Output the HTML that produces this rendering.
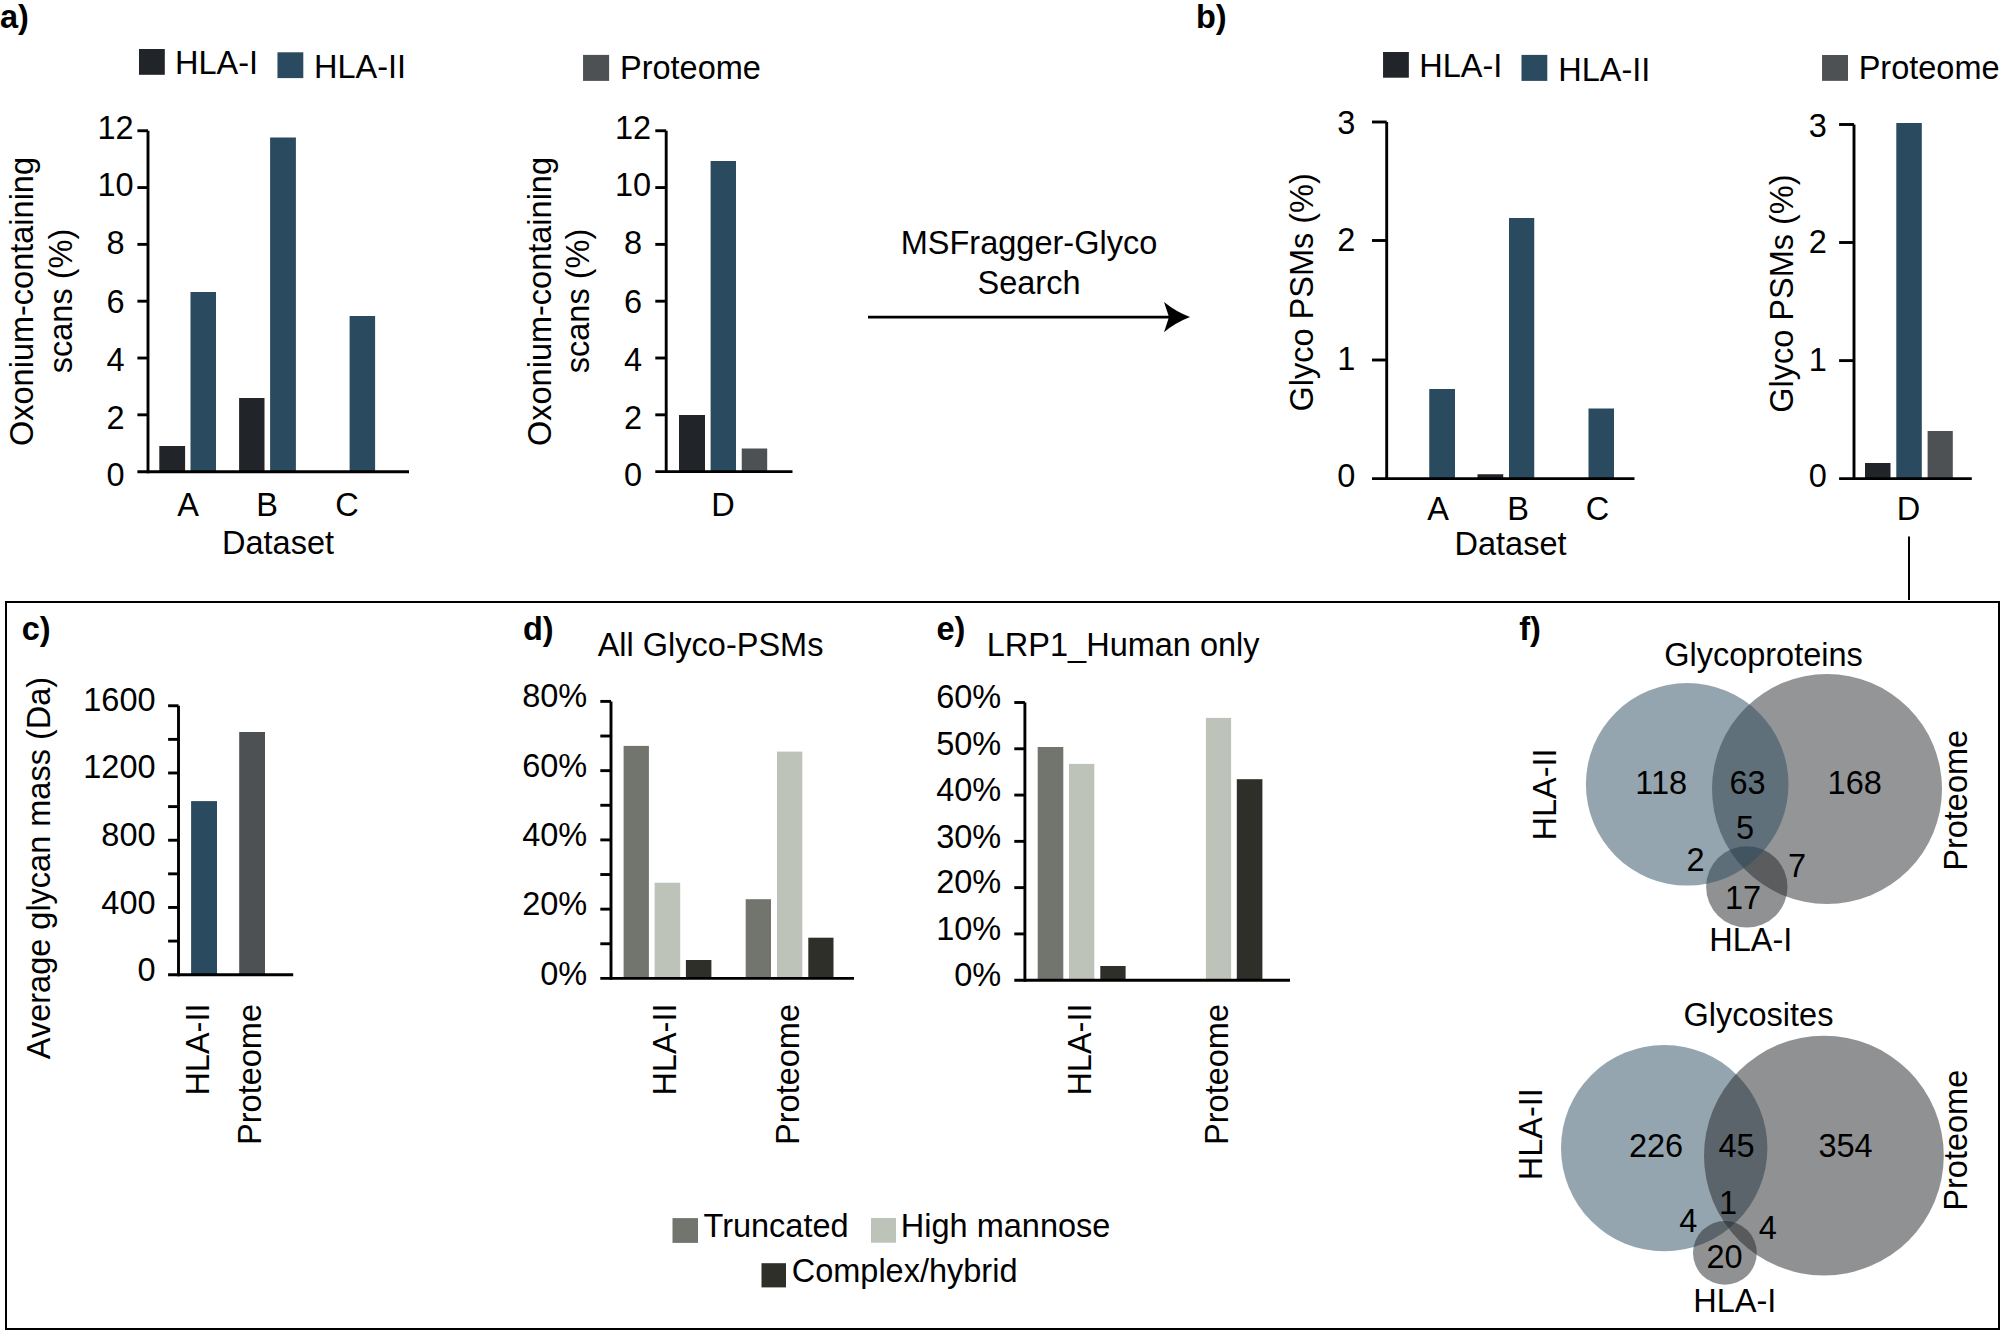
<!DOCTYPE html>
<html lang="en">
<head>
<meta charset="utf-8">
<title>Glycopeptide figure</title>
<style>
html,body{margin:0;padding:0;background:#fff;}
body{width:2000px;height:1330px;overflow:hidden;}
svg{display:block;}
svg text{font-family:"Liberation Sans",Arial,Helvetica,sans-serif;font-size:32.5px;fill:#000;}
</style>
</head>
<body>
<svg width="2000" height="1330" viewBox="0 0 2000 1330">
<rect x="0" y="0" width="2000" height="1330" fill="#fff"/>
<text x="0.00" y="28.00" font-weight="bold" font-size="33">a)</text>
<text x="1196.00" y="28.00" font-weight="bold" font-size="33">b)</text>
<text x="21.80" y="640.10" font-weight="bold" font-size="33">c)</text>
<text x="523.00" y="640.00" font-weight="bold" font-size="33">d)</text>
<text x="936.50" y="640.00" font-weight="bold" font-size="33">e)</text>
<text x="1519.30" y="640.00" font-weight="bold" font-size="33">f)</text>
<rect x="139.00" y="49.00" width="25.80" height="25.80" fill="#212429"/>
<text x="175.00" y="74.00">HLA-I</text>
<rect x="277.45" y="52.30" width="25.85" height="25.80" fill="#2a4b5f"/>
<text x="314.00" y="78.00">HLA-II</text>
<text x="115.60" y="138.80" text-anchor="middle">12</text>
<text x="115.60" y="196.30" text-anchor="middle">10</text>
<text x="115.60" y="254.20" text-anchor="middle">8</text>
<text x="115.60" y="312.60" text-anchor="middle">6</text>
<text x="115.60" y="370.70" text-anchor="middle">4</text>
<text x="115.60" y="428.60" text-anchor="middle">2</text>
<text x="115.60" y="486.40" text-anchor="middle">0</text>
<rect x="159.30" y="446.00" width="25.80" height="25.70" fill="#212429"/>
<rect x="190.50" y="292.00" width="25.50" height="179.70" fill="#2a4b5f"/>
<rect x="239.10" y="398.00" width="25.40" height="73.70" fill="#212429"/>
<rect x="270.10" y="137.50" width="25.80" height="334.20" fill="#2a4b5f"/>
<rect x="349.60" y="316.00" width="25.50" height="155.70" fill="#2a4b5f"/>
<text x="188.00" y="516.00" text-anchor="middle">A</text>
<text x="267.00" y="516.00" text-anchor="middle">B</text>
<text x="347.00" y="516.00" text-anchor="middle">C</text>
<text x="278.00" y="554.00" text-anchor="middle">Dataset</text>
<text transform="translate(33.20 301.50) rotate(-90)" text-anchor="middle">Oxonium-containing</text>
<text transform="translate(71.50 301.00) rotate(-90)" text-anchor="middle">scans (%)</text>
<rect x="583.05" y="54.90" width="26.05" height="26.00" fill="#4d5154"/>
<text x="620.00" y="79.00">Proteome</text>
<text x="633.00" y="138.80" text-anchor="middle">12</text>
<text x="633.00" y="196.30" text-anchor="middle">10</text>
<text x="633.00" y="254.20" text-anchor="middle">8</text>
<text x="633.00" y="312.60" text-anchor="middle">6</text>
<text x="633.00" y="370.70" text-anchor="middle">4</text>
<text x="633.00" y="428.60" text-anchor="middle">2</text>
<text x="633.00" y="486.40" text-anchor="middle">0</text>
<rect x="679.00" y="415.00" width="26.00" height="56.70" fill="#212429"/>
<rect x="710.60" y="161.00" width="25.40" height="310.70" fill="#2a4b5f"/>
<rect x="741.75" y="448.50" width="25.45" height="23.20" fill="#4d5154"/>
<text x="723.00" y="516.00" text-anchor="middle">D</text>
<text transform="translate(550.90 301.50) rotate(-90)" text-anchor="middle">Oxonium-containing</text>
<text transform="translate(589.40 301.00) rotate(-90)" text-anchor="middle">scans (%)</text>
<text x="1029.00" y="254.40" text-anchor="middle">MSFragger-Glyco</text>
<text x="1029.00" y="293.60" text-anchor="middle">Search</text>
<line x1="868.00" y1="317.10" x2="1172.00" y2="317.10" stroke="#000" stroke-width="2.9" stroke-linecap="butt"/>
<path d="M1190.05 317.1 Q1175.8 311.6 1164 302 L1169 317.1 L1164 332.2 Q1175.8 322.6 1190.05 317.1 Z" fill="#000"/>
<rect x="1383.05" y="52.00" width="25.80" height="25.70" fill="#212429"/>
<text x="1419.30" y="76.90">HLA-I</text>
<rect x="1521.50" y="54.90" width="25.80" height="26.00" fill="#2a4b5f"/>
<text x="1558.20" y="80.80">HLA-II</text>
<text x="1346.30" y="134.30" text-anchor="middle">3</text>
<text x="1346.30" y="251.00" text-anchor="middle">2</text>
<text x="1346.30" y="370.30" text-anchor="middle">1</text>
<text x="1346.30" y="486.60" text-anchor="middle">0</text>
<rect x="1429.25" y="389.00" width="25.75" height="89.75" fill="#2a4b5f"/>
<rect x="1477.50" y="474.25" width="25.75" height="4.50" fill="#212429"/>
<rect x="1509.00" y="218.00" width="25.25" height="260.75" fill="#2a4b5f"/>
<rect x="1588.50" y="408.50" width="25.50" height="70.25" fill="#2a4b5f"/>
<text x="1438.00" y="519.70" text-anchor="middle">A</text>
<text x="1518.00" y="519.70" text-anchor="middle">B</text>
<text x="1597.40" y="519.70" text-anchor="middle">C</text>
<text x="1510.50" y="555.20" text-anchor="middle">Dataset</text>
<text transform="translate(1313.20 292.40) rotate(-90)" text-anchor="middle">Glyco PSMs (%)</text>
<rect x="1822.05" y="55.00" width="25.95" height="25.85" fill="#4d5154"/>
<text x="1858.70" y="78.90">Proteome</text>
<text x="1817.80" y="136.50" text-anchor="middle">3</text>
<text x="1817.80" y="252.60" text-anchor="middle">2</text>
<text x="1817.80" y="371.10" text-anchor="middle">1</text>
<text x="1817.80" y="487.00" text-anchor="middle">0</text>
<rect x="1865.00" y="463.00" width="25.50" height="15.70" fill="#212429"/>
<rect x="1896.30" y="123.00" width="25.50" height="355.70" fill="#2a4b5f"/>
<rect x="1927.60" y="431.00" width="25.20" height="47.70" fill="#4d5154"/>
<text x="1908.40" y="519.70" text-anchor="middle">D</text>
<text transform="translate(1792.60 293.60) rotate(-90)" text-anchor="middle">Glyco PSMs (%)</text>
<line x1="1909.00" y1="536.50" x2="1909.00" y2="600.00" stroke="#000" stroke-width="2" stroke-linecap="butt"/>
<rect x="6" y="602" width="1993" height="727" fill="none" stroke="#000" stroke-width="2"/>
<text x="155.60" y="710.70" text-anchor="end">1600</text>
<text x="155.60" y="778.40" text-anchor="end">1200</text>
<text x="155.60" y="846.00" text-anchor="end">800</text>
<text x="155.60" y="913.50" text-anchor="end">400</text>
<text x="155.60" y="980.90" text-anchor="end">0</text>
<rect x="191.10" y="801.10" width="25.90" height="173.60" fill="#2a4b5f"/>
<rect x="239.20" y="732.00" width="25.80" height="242.70" fill="#4d5154"/>
<text transform="translate(209.20 1003.50) rotate(-90)" text-anchor="end">HLA-II</text>
<text transform="translate(260.90 1004.00) rotate(-90)" text-anchor="end">Proteome</text>
<text transform="translate(49.90 868.00) rotate(-90)" text-anchor="middle">Average glycan mass (Da)</text>
<text x="597.70" y="656.20">All Glyco-PSMs</text>
<text x="587.20" y="706.90" text-anchor="end">80%</text>
<text x="587.20" y="776.50" text-anchor="end">60%</text>
<text x="587.20" y="845.90" text-anchor="end">40%</text>
<text x="587.20" y="915.40" text-anchor="end">20%</text>
<text x="587.20" y="984.90" text-anchor="end">0%</text>
<rect x="623.60" y="745.90" width="25.30" height="232.50" fill="#72756e"/>
<rect x="654.60" y="882.70" width="25.60" height="95.70" fill="#bec3ba"/>
<rect x="685.90" y="960.00" width="25.50" height="18.40" fill="#2e2f29"/>
<rect x="745.70" y="899.20" width="25.30" height="79.20" fill="#72756e"/>
<rect x="777.00" y="751.60" width="25.30" height="226.80" fill="#bec3ba"/>
<rect x="808.30" y="937.70" width="25.20" height="40.70" fill="#2e2f29"/>
<text transform="translate(676.10 1003.50) rotate(-90)" text-anchor="end">HLA-II</text>
<text transform="translate(798.50 1004.00) rotate(-90)" text-anchor="end">Proteome</text>
<rect x="672.50" y="1218.10" width="25.50" height="24.80" fill="#72756e"/>
<text x="703.50" y="1236.80">Truncated</text>
<rect x="871.00" y="1218.00" width="25.00" height="24.70" fill="#bec3ba"/>
<text x="900.80" y="1237.00">High mannose</text>
<rect x="761.50" y="1263.20" width="24.50" height="24.20" fill="#2e2f29"/>
<text x="791.70" y="1282.20">Complex/hybrid</text>
<text x="986.80" y="656.20">LRP1_Human only</text>
<text x="1001.20" y="708.40" text-anchor="end">60%</text>
<text x="1001.20" y="755.10" text-anchor="end">50%</text>
<text x="1001.20" y="801.30" text-anchor="end">40%</text>
<text x="1001.20" y="847.50" text-anchor="end">30%</text>
<text x="1001.20" y="893.40" text-anchor="end">20%</text>
<text x="1001.20" y="939.80" text-anchor="end">10%</text>
<text x="1001.20" y="985.90" text-anchor="end">0%</text>
<rect x="1037.70" y="747.00" width="25.60" height="233.20" fill="#72756e"/>
<rect x="1069.00" y="763.90" width="25.30" height="216.30" fill="#bec3ba"/>
<rect x="1100.30" y="966.00" width="25.30" height="14.20" fill="#2e2f29"/>
<rect x="1205.90" y="717.90" width="25.20" height="262.30" fill="#bec3ba"/>
<rect x="1236.80" y="779.20" width="25.60" height="201.00" fill="#2e2f29"/>
<text transform="translate(1090.50 1003.50) rotate(-90)" text-anchor="end">HLA-II</text>
<text transform="translate(1227.70 1004.00) rotate(-90)" text-anchor="end">Proteome</text>
<circle cx="1827" cy="789" r="115" fill="#4d4f51" fill-opacity="0.6"/>
<circle cx="1746.8" cy="886.9" r="40.7" fill="#222426" fill-opacity="0.5"/>
<circle cx="1687.2" cy="784.3" r="101.3" fill="#2a4b5f" fill-opacity="0.5"/>
<text x="1763.50" y="666.30" text-anchor="middle">Glycoproteins</text>
<text x="1661.20" y="794.30" text-anchor="middle">118</text>
<text x="1747.50" y="794.30" text-anchor="middle">63</text>
<text x="1854.70" y="794.30" text-anchor="middle">168</text>
<text x="1745.00" y="839.40" text-anchor="middle">5</text>
<text x="1695.50" y="870.70" text-anchor="middle">2</text>
<text x="1797.00" y="876.90" text-anchor="middle">7</text>
<text x="1743.00" y="908.60" text-anchor="middle">17</text>
<text x="1750.70" y="950.90" text-anchor="middle">HLA-I</text>
<text transform="translate(1555.70 794.50) rotate(-90)" text-anchor="middle">HLA-II</text>
<text transform="translate(1967.00 800.30) rotate(-90)" text-anchor="middle">Proteome</text>
<circle cx="1664.2" cy="1148.1" r="103.2" fill="#2a4b5f" fill-opacity="0.5"/>
<circle cx="1823.9" cy="1155.6" r="119.9" fill="#212325" fill-opacity="0.5"/>
<circle cx="1724.9" cy="1252.9" r="31.9" fill="#212325" fill-opacity="0.5"/>
<text x="1758.50" y="1026.20" text-anchor="middle">Glycosites</text>
<text x="1656.00" y="1157.00" text-anchor="middle">226</text>
<text x="1736.50" y="1157.00" text-anchor="middle">45</text>
<text x="1845.50" y="1157.00" text-anchor="middle">354</text>
<text x="1728.00" y="1213.80" text-anchor="middle">1</text>
<text x="1688.30" y="1232.10" text-anchor="middle">4</text>
<text x="1767.80" y="1239.10" text-anchor="middle">4</text>
<text x="1724.50" y="1268.20" text-anchor="middle">20</text>
<text x="1734.80" y="1312.00" text-anchor="middle">HLA-I</text>
<text transform="translate(1541.70 1134.20) rotate(-90)" text-anchor="middle">HLA-II</text>
<text transform="translate(1967.40 1140.20) rotate(-90)" text-anchor="middle">Proteome</text>
<line x1="148.00" y1="130.75" x2="148.00" y2="473.20" stroke="#000" stroke-width="2.9" stroke-linecap="butt"/>
<line x1="137.40" y1="471.75" x2="409.00" y2="471.75" stroke="#000" stroke-width="2.9" stroke-linecap="butt"/>
<line x1="137.40" y1="130.75" x2="148.00" y2="130.75" stroke="#000" stroke-width="2.9" stroke-linecap="butt"/>
<line x1="137.40" y1="187.57" x2="148.00" y2="187.57" stroke="#000" stroke-width="2.9" stroke-linecap="butt"/>
<line x1="137.40" y1="244.38" x2="148.00" y2="244.38" stroke="#000" stroke-width="2.9" stroke-linecap="butt"/>
<line x1="137.40" y1="301.20" x2="148.00" y2="301.20" stroke="#000" stroke-width="2.9" stroke-linecap="butt"/>
<line x1="137.40" y1="358.02" x2="148.00" y2="358.02" stroke="#000" stroke-width="2.9" stroke-linecap="butt"/>
<line x1="137.40" y1="414.83" x2="148.00" y2="414.83" stroke="#000" stroke-width="2.9" stroke-linecap="butt"/>
<line x1="666.20" y1="130.75" x2="666.20" y2="473.10" stroke="#000" stroke-width="2.9" stroke-linecap="butt"/>
<line x1="655.30" y1="471.65" x2="792.50" y2="471.65" stroke="#000" stroke-width="2.9" stroke-linecap="butt"/>
<line x1="655.30" y1="130.75" x2="666.20" y2="130.75" stroke="#000" stroke-width="2.9" stroke-linecap="butt"/>
<line x1="655.30" y1="187.57" x2="666.20" y2="187.57" stroke="#000" stroke-width="2.9" stroke-linecap="butt"/>
<line x1="655.30" y1="244.38" x2="666.20" y2="244.38" stroke="#000" stroke-width="2.9" stroke-linecap="butt"/>
<line x1="655.30" y1="301.20" x2="666.20" y2="301.20" stroke="#000" stroke-width="2.9" stroke-linecap="butt"/>
<line x1="655.30" y1="358.02" x2="666.20" y2="358.02" stroke="#000" stroke-width="2.9" stroke-linecap="butt"/>
<line x1="655.30" y1="414.83" x2="666.20" y2="414.83" stroke="#000" stroke-width="2.9" stroke-linecap="butt"/>
<line x1="1386.70" y1="122.00" x2="1386.70" y2="480.05" stroke="#000" stroke-width="2.9" stroke-linecap="butt"/>
<line x1="1372.00" y1="478.60" x2="1634.50" y2="478.60" stroke="#000" stroke-width="2.9" stroke-linecap="butt"/>
<line x1="1372.00" y1="122.00" x2="1386.70" y2="122.00" stroke="#000" stroke-width="2.9" stroke-linecap="butt"/>
<line x1="1372.00" y1="240.50" x2="1386.70" y2="240.50" stroke="#000" stroke-width="2.9" stroke-linecap="butt"/>
<line x1="1372.00" y1="360.00" x2="1386.70" y2="360.00" stroke="#000" stroke-width="2.9" stroke-linecap="butt"/>
<line x1="1854.00" y1="124.50" x2="1854.00" y2="480.05" stroke="#000" stroke-width="2.9" stroke-linecap="butt"/>
<line x1="1839.10" y1="478.60" x2="1971.80" y2="478.60" stroke="#000" stroke-width="2.9" stroke-linecap="butt"/>
<line x1="1839.10" y1="124.50" x2="1854.00" y2="124.50" stroke="#000" stroke-width="2.9" stroke-linecap="butt"/>
<line x1="1839.10" y1="242.50" x2="1854.00" y2="242.50" stroke="#000" stroke-width="2.9" stroke-linecap="butt"/>
<line x1="1839.10" y1="360.60" x2="1854.00" y2="360.60" stroke="#000" stroke-width="2.9" stroke-linecap="butt"/>
<line x1="178.50" y1="705.75" x2="178.50" y2="976.15" stroke="#000" stroke-width="2.9" stroke-linecap="butt"/>
<line x1="168.10" y1="974.70" x2="293.20" y2="974.70" stroke="#000" stroke-width="2.9" stroke-linecap="butt"/>
<line x1="168.10" y1="705.75" x2="178.50" y2="705.75" stroke="#000" stroke-width="2.9" stroke-linecap="butt"/>
<line x1="168.10" y1="739.37" x2="178.50" y2="739.37" stroke="#000" stroke-width="2.9" stroke-linecap="butt"/>
<line x1="168.10" y1="772.99" x2="178.50" y2="772.99" stroke="#000" stroke-width="2.9" stroke-linecap="butt"/>
<line x1="168.10" y1="806.61" x2="178.50" y2="806.61" stroke="#000" stroke-width="2.9" stroke-linecap="butt"/>
<line x1="168.10" y1="840.23" x2="178.50" y2="840.23" stroke="#000" stroke-width="2.9" stroke-linecap="butt"/>
<line x1="168.10" y1="873.84" x2="178.50" y2="873.84" stroke="#000" stroke-width="2.9" stroke-linecap="butt"/>
<line x1="168.10" y1="907.46" x2="178.50" y2="907.46" stroke="#000" stroke-width="2.9" stroke-linecap="butt"/>
<line x1="168.10" y1="941.08" x2="178.50" y2="941.08" stroke="#000" stroke-width="2.9" stroke-linecap="butt"/>
<line x1="611.00" y1="701.40" x2="611.00" y2="979.85" stroke="#000" stroke-width="2.9" stroke-linecap="butt"/>
<line x1="600.30" y1="978.40" x2="854.00" y2="978.40" stroke="#000" stroke-width="2.9" stroke-linecap="butt"/>
<line x1="600.30" y1="701.40" x2="611.00" y2="701.40" stroke="#000" stroke-width="2.9" stroke-linecap="butt"/>
<line x1="600.30" y1="736.02" x2="611.00" y2="736.02" stroke="#000" stroke-width="2.9" stroke-linecap="butt"/>
<line x1="600.30" y1="770.65" x2="611.00" y2="770.65" stroke="#000" stroke-width="2.9" stroke-linecap="butt"/>
<line x1="600.30" y1="805.27" x2="611.00" y2="805.27" stroke="#000" stroke-width="2.9" stroke-linecap="butt"/>
<line x1="600.30" y1="839.90" x2="611.00" y2="839.90" stroke="#000" stroke-width="2.9" stroke-linecap="butt"/>
<line x1="600.30" y1="874.52" x2="611.00" y2="874.52" stroke="#000" stroke-width="2.9" stroke-linecap="butt"/>
<line x1="600.30" y1="909.15" x2="611.00" y2="909.15" stroke="#000" stroke-width="2.9" stroke-linecap="butt"/>
<line x1="600.30" y1="943.77" x2="611.00" y2="943.77" stroke="#000" stroke-width="2.9" stroke-linecap="butt"/>
<line x1="1024.90" y1="702.50" x2="1024.90" y2="981.65" stroke="#000" stroke-width="2.9" stroke-linecap="butt"/>
<line x1="1014.30" y1="980.20" x2="1290.00" y2="980.20" stroke="#000" stroke-width="2.9" stroke-linecap="butt"/>
<line x1="1014.30" y1="702.50" x2="1024.90" y2="702.50" stroke="#000" stroke-width="2.9" stroke-linecap="butt"/>
<line x1="1014.30" y1="748.78" x2="1024.90" y2="748.78" stroke="#000" stroke-width="2.9" stroke-linecap="butt"/>
<line x1="1014.30" y1="795.07" x2="1024.90" y2="795.07" stroke="#000" stroke-width="2.9" stroke-linecap="butt"/>
<line x1="1014.30" y1="841.35" x2="1024.90" y2="841.35" stroke="#000" stroke-width="2.9" stroke-linecap="butt"/>
<line x1="1014.30" y1="887.63" x2="1024.90" y2="887.63" stroke="#000" stroke-width="2.9" stroke-linecap="butt"/>
<line x1="1014.30" y1="933.92" x2="1024.90" y2="933.92" stroke="#000" stroke-width="2.9" stroke-linecap="butt"/>
</svg>
</body>
</html>
